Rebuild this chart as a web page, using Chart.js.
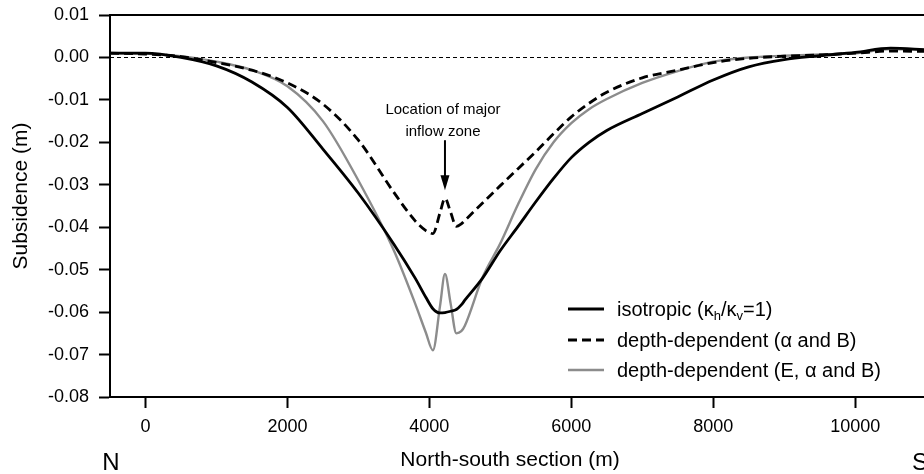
<!DOCTYPE html>
<html>
<head>
<meta charset="utf-8">
<script src="https://cdn.jsdelivr.net/npm/chart.js@4/dist/chart.umd.min.js"></script>
<style>
  html, body { margin: 0; padding: 0; background: #fff; overflow: hidden; }
  #wrap { width: 924px; height: 474px; }
</style>
</head>
<body>
<div id="wrap"><canvas id="c" width="924" height="474"></canvas></div>
<script>
// Distance along the north-south section (m)
const distance = [-500, 0, 500, 1000, 1500, 2000, 2500, 3000, 3500, 3800,
  3950, 4050, 4150, 4220, 4300, 4380, 4450, 4500,
  4750, 5000, 5250, 5500, 5750, 6000, 6250,
  6500, 7000, 7500, 8000, 8500, 9000, 9500, 10000, 10500, 11000];

// Subsidence (m) for each model
const isotropic = [0.0010, 0.0010, 0.0000, -0.0020, -0.0058, -0.0118, -0.0216, -0.0320, -0.0440, -0.0520,
  -0.0565, -0.0592, -0.0602, -0.0601, -0.0598, -0.0594, -0.0583, -0.0572,
  -0.0520, -0.0455, -0.0398, -0.0340, -0.0285, -0.0236, -0.0200,
  -0.0172, -0.0132, -0.0093, -0.0053, -0.0022, -0.0005, 0.0004, 0.0012, 0.0022, 0.0018];

const depthAlphaB = [0.0010, 0.0008, 0.0002, -0.0012, -0.0030, -0.0060, -0.0110, -0.0195, -0.0318, -0.0385,
  -0.0408, -0.0415, -0.0366, -0.0332, -0.0365, -0.0398, -0.0392, -0.0384,
  -0.0343, -0.0302, -0.0262, -0.0222, -0.0180, -0.0140, -0.0108,
  -0.0082, -0.0048, -0.0030, -0.0012, -0.0002, 0.0003, 0.0006, 0.0010, 0.0015, 0.0014];

const depthEAlphaB = [0.0010, 0.0009, 0.0003, -0.0010, -0.0030, -0.0068, -0.0150, -0.0290, -0.0455, -0.0580,
  -0.0648, -0.0690, -0.0586, -0.0510, -0.0580, -0.0650, -0.0645, -0.0632,
  -0.0518, -0.0438, -0.0346, -0.0263, -0.0200, -0.0155, -0.0122,
  -0.0098, -0.0060, -0.0032, -0.0010, 0.0000, 0.0004, 0.0007, 0.0010, 0.0020, 0.0018];

// Axis ticks
const xTicks = [0, 2000, 4000, 6000, 8000, 10000];
const yTicks = [0.01, 0.00, -0.01, -0.02, -0.03, -0.04, -0.05, -0.06, -0.07, -0.08];

// Inflow zone marker (distance, arrow top, arrow tip)
const inflowZone = { x: 4220, from: -0.0195, to: -0.0313 };

const FONT = "'Liberation Sans', Arial, Helvetica, sans-serif";
Chart.defaults.font.family = FONT;
Chart.defaults.color = '#000';

const series = (ys) => distance.map((x, i) => ({ x: x, y: ys[i] }));

// Frame, zero line, titles, annotation and legend
const decorations = {
  id: 'decorations',
  beforeDatasetsDraw(chart) {
    const { ctx, chartArea: a, scales: { y } } = chart;
    const y0 = Math.round(y.getPixelForValue(0)) + 0.5;
    ctx.save();
    ctx.strokeStyle = '#000';
    ctx.lineWidth = 1;
    ctx.setLineDash([4, 3]);
    ctx.beginPath();
    ctx.moveTo(a.left, y0);
    ctx.lineTo(chart.width, y0);
    ctx.stroke();
    ctx.restore();
  },
  afterDraw(chart) {
    const { ctx, chartArea: a, scales: { x, y } } = chart;
    ctx.save();
    ctx.strokeStyle = '#000';
    ctx.lineWidth = 2;
    // top and bottom frame lines
    ctx.beginPath();
    ctx.moveTo(a.left - 1, a.top);
    ctx.lineTo(chart.width, a.top);
    ctx.moveTo(a.left - 1, a.bottom);
    ctx.lineTo(chart.width, a.bottom);
    ctx.stroke();

    // axis titles and N / S markers
    ctx.fillStyle = '#000';
    ctx.textBaseline = 'middle';
    ctx.textAlign = 'center';
    ctx.font = '21px ' + FONT;
    ctx.fillText('North-south section (m)', 510, 460);
    ctx.save();
    ctx.translate(21, 196);
    ctx.rotate(-Math.PI / 2);
    ctx.fillText('Subsidence (m)', 0, 0);
    ctx.restore();
    ctx.font = '24px ' + FONT;
    ctx.fillText('N', 111, 463);
    ctx.textAlign = 'left';
    ctx.fillText('S', 912, 463);

    // inflow zone annotation
    const ax = x.getPixelForValue(inflowZone.x);
    const aTop = y.getPixelForValue(inflowZone.from);
    const aTip = y.getPixelForValue(inflowZone.to);
    ctx.textAlign = 'center';
    ctx.font = '15px ' + FONT;
    ctx.fillText('Location of major', ax - 2, aTop - 30);
    ctx.fillText('inflow zone', ax - 2, aTop - 8);
    ctx.lineWidth = 2;
    ctx.beginPath();
    ctx.moveTo(ax, aTop);
    ctx.lineTo(ax, aTip - 12);
    ctx.stroke();
    ctx.beginPath();
    ctx.moveTo(ax - 4.5, aTip - 15);
    ctx.lineTo(ax + 4.5, aTip - 15);
    ctx.lineTo(ax, aTip);
    ctx.closePath();
    ctx.fill();

    // legend
    const rows = [
      { ds: chart.data.datasets[0], y: 309 },
      { ds: chart.data.datasets[1], y: 340 },
      { ds: chart.data.datasets[2], y: 370 }
    ];
    rows.forEach(r => {
      ctx.save();
      ctx.strokeStyle = r.ds.borderColor;
      ctx.lineWidth = r.ds.borderWidth;
      ctx.setLineDash(r.ds.borderDash || []);
      ctx.beginPath();
      ctx.moveTo(568, r.y);
      ctx.lineTo(604, r.y);
      ctx.stroke();
      ctx.restore();
    });
    ctx.textAlign = 'left';
    ctx.textBaseline = 'alphabetic';
    const big = '20px ' + FONT, small = '13px ' + FONT;
    // first entry carries subscripts
    let tx = 617;
    const base1 = 309 + 7;
    const parts = [['isotropic (\u03BA', big, 0], ['h', small, 4], ['/\u03BA', big, 0], ['v', small, 4], ['=1)', big, 0]];
    parts.forEach(p => {
      ctx.font = p[1];
      ctx.fillText(p[0], tx, base1 + p[2]);
      tx += ctx.measureText(p[0]).width;
    });
    ctx.font = big;
    ctx.fillText('depth-dependent (\u03B1 and B)', 617, 340 + 7);
    ctx.fillText('depth-dependent (E, \u03B1 and B)', 617, 370 + 7);
    ctx.restore();
  }
};

new Chart(document.getElementById('c'), {
  type: 'line',
  data: {
    datasets: [
      {
        label: 'isotropic (\u03BAh/\u03BAv=1)',
        data: series(isotropic),
        borderColor: '#000',
        borderWidth: 2.8,
        cubicInterpolationMode: 'monotone',
        pointRadius: 0,
        clip: false
      },
      {
        label: 'depth-dependent (\u03B1 and B)',
        data: series(depthAlphaB),
        borderColor: '#000',
        borderWidth: 2.8,
        borderDash: [9, 5],
        cubicInterpolationMode: 'monotone',
        pointRadius: 0,
        clip: false
      },
      {
        label: 'depth-dependent (E, \u03B1 and B)',
        data: series(depthEAlphaB),
        borderColor: '#8c8c8c',
        borderWidth: 2.4,
        cubicInterpolationMode: 'monotone',
        pointRadius: 0,
        clip: false
      }
    ]
  },
  options: {
    responsive: false,
    animation: false,
    devicePixelRatio: 1,
    layout: { padding: { top: 15, left: 0, right: 0, bottom: 0 } },
    plugins: { legend: { display: false }, tooltip: { enabled: false } },
    scales: {
      x: {
        type: 'linear',
        min: -500,
        max: 10970,
        afterBuildTicks: s => { s.ticks = xTicks.map(v => ({ value: v })); },
        afterFit: s => { s.height = 77; s.paddingLeft = 0; s.paddingRight = 0; },
        ticks: {
          font: { size: 18 }, color: '#000', padding: 8, maxRotation: 0, autoSkip: false,
          callback: v => String(v)
        },
        grid: { drawOnChartArea: false, drawTicks: true, tickLength: 11, tickWidth: 2, tickColor: '#000', color: '#000' },
        border: { display: true, color: '#000', width: 2 }
      },
      y: {
        min: -0.08,
        max: 0.01,
        afterBuildTicks: s => { s.ticks = yTicks.map(v => ({ value: v })); },
        afterFit: s => { s.width = 110; s.paddingTop = 0; s.paddingBottom = 0; },
        ticks: {
          font: { size: 18 }, color: '#000', padding: 10,
          callback: v => (Math.abs(v) < 1e-9 ? 0 : v).toFixed(2)
        },
        grid: { drawOnChartArea: false, drawTicks: true, tickLength: 11, tickWidth: 2, tickColor: '#000', color: '#000' },
        border: { display: true, color: '#000', width: 2 }
      }
    }
  },
  plugins: [decorations]
});
</script>
</body>
</html>
